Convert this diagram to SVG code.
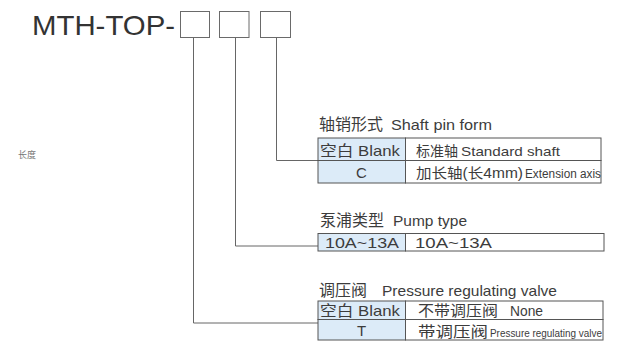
<svg xmlns="http://www.w3.org/2000/svg" width="631" height="347" viewBox="0 0 631 347">
<style>
text{font-family:"Liberation Sans","Noto Sans CJK SC",sans-serif;fill:#3c3c3c}
.box{fill:#fff;stroke:#6a6a6a;stroke-width:1}
.cell{fill:#fff;stroke:#555;stroke-width:1}
.blue{fill:#dcebf8;stroke:#555;stroke-width:1}
.conn{fill:none;stroke:#666;stroke-width:1}
.t15{font-size:15px}
.t14{font-size:14px}
.cn{font-size:16px}
</style>
<rect width="631" height="347" fill="#fff"/>
<g id="code">
<text x="32" y="34.5" font-size="28" textLength="143" lengthAdjust="spacingAndGlyphs" style="fill:#333">MTH-TOP-</text>
<rect class="box" x="180.5" y="11.5" width="29" height="26"/>
<rect class="box" x="219.5" y="11.5" width="29.5" height="26"/>
<rect class="box" x="260.5" y="11.5" width="30" height="26"/>
</g>
<g id="side">
<text x="18" y="158" font-size="9" style="fill:#777">长度</text>
</g>
<g id="connectors">
<polyline class="conn" points="276.5,37.5 276.5,160.5 318,160.5"/>
<polyline class="conn" points="235.5,37.5 235.5,246 318,246"/>
<polyline class="conn" points="193.5,37.5 193.5,323 318,323"/>
</g>
<g id="shaft-pin-form">
<text y="130"><tspan class="cn" x="319">轴销形式</tspan><tspan class="t15" x="391" textLength="101" lengthAdjust="spacingAndGlyphs">Shaft pin form</tspan></text>
<rect class="blue" x="318" y="138" width="87.5" height="22.5"/>
<rect class="cell" x="405.5" y="138" width="195.5" height="22.5"/>
<rect class="blue" x="318" y="160.5" width="87.5" height="22.5"/>
<rect class="cell" x="405.5" y="160.5" width="195.5" height="22.5"/>
<text class="t15" x="320" y="155.5" textLength="80" lengthAdjust="spacingAndGlyphs">空白 Blank</text>
<text class="t15" x="361.5" y="178" text-anchor="middle">C</text>
<text y="155.5"><tspan class="t14" x="416">标准轴</tspan><tspan x="461" font-size="13" textLength="99" lengthAdjust="spacingAndGlyphs">Standard shaft</tspan></text>
<text y="178"><tspan class="t14" x="416" textLength="107" lengthAdjust="spacingAndGlyphs">加长轴(长4mm)</tspan><tspan x="525" font-size="12.5" textLength="76" lengthAdjust="spacingAndGlyphs">Extension axis</tspan></text>
</g>
<g id="pump-type">
<text y="225.5"><tspan class="cn" x="320">泵浦类型</tspan><tspan class="t15" x="393" textLength="74" lengthAdjust="spacingAndGlyphs">Pump type</tspan></text>
<rect class="blue" x="318" y="233.5" width="87.5" height="17.5"/>
<rect class="cell" x="405.5" y="233.5" width="198.5" height="17.5"/>
<text class="t15" x="325" y="247.5" textLength="74" lengthAdjust="spacingAndGlyphs">10A~13A</text>
<text class="t15" x="415" y="247.5" textLength="77" lengthAdjust="spacingAndGlyphs">10A~13A</text>
</g>
<g id="pressure-valve">
<text y="295.5"><tspan class="cn" x="319">调压阀</tspan><tspan class="t15" x="382" textLength="175" lengthAdjust="spacingAndGlyphs">Pressure regulating valve</tspan></text>
<rect class="blue" x="318" y="301" width="87.5" height="18.5"/>
<rect class="cell" x="405.5" y="301" width="197.5" height="18.5"/>
<rect class="blue" x="318" y="319.5" width="87.5" height="20.5"/>
<rect class="cell" x="405.5" y="319.5" width="197.5" height="20.5"/>
<text class="t15" x="320" y="316" textLength="80" lengthAdjust="spacingAndGlyphs">空白 Blank</text>
<text class="t15" x="361.5" y="336" text-anchor="middle">T</text>
<text y="316"><tspan class="t15" x="418" textLength="80" lengthAdjust="spacingAndGlyphs">不带调压阀</tspan><tspan class="t14" x="510" textLength="33" lengthAdjust="spacingAndGlyphs">None</tspan></text>
<text y="336.5"><tspan class="t15" x="418" textLength="70" lengthAdjust="spacingAndGlyphs">带调压阀</tspan><tspan x="490" font-size="11.5" textLength="112" lengthAdjust="spacingAndGlyphs">Pressure regulating valve</tspan></text>
</g>
</svg>
